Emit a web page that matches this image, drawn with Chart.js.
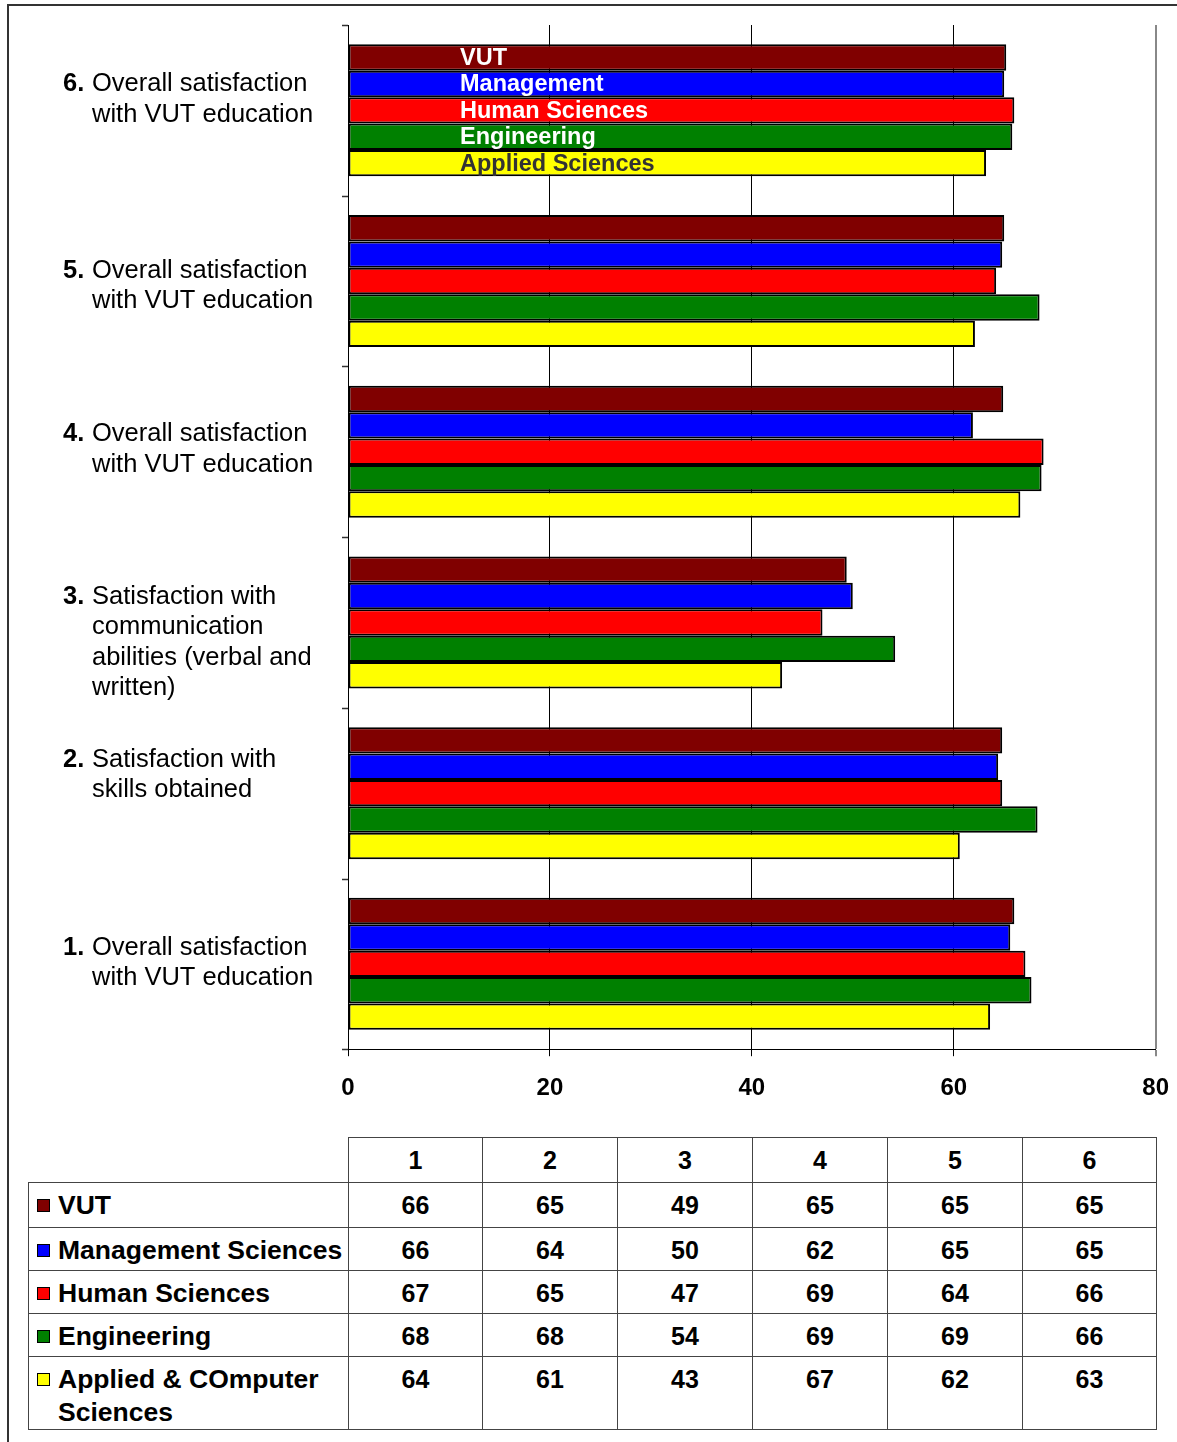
<!DOCTYPE html>
<html>
<head>
<meta charset="utf-8">
<script src="https://cdn.jsdelivr.net/npm/chart.js@4.4.0/dist/chart.umd.min.js"></script>
<style>
  html, body { margin: 0; padding: 0; background: #fff; overflow: hidden; }
  body { width: 1177px; height: 1442px; position: relative; font-family: "Liberation Sans", Arial, sans-serif; }
  #frame { position: absolute; left: 7px; top: 4px; width: 1300px; height: 1600px; border: 2px solid #333; }
  #wrap { position: absolute; left: 0; top: 0; width: 1177px; height: 1133px; overflow: hidden; }
  #data { position: absolute; left: 28px; top: 1137px; border-collapse: collapse; table-layout: fixed; }
  #data td { border: 1px solid #444; padding: 6px 0 0 0; vertical-align: top; text-align: center;
             font-weight: bold; font-size: 25px; line-height: 33px; color: #000; box-sizing: border-box; }
  #data td.name { text-align: left; padding-left: 8px; font-size: 26.5px; }
  #data td.blank { border: none; }
  .row { display: flex; align-items: flex-start; }
  .key { width: 11px; height: 11px; border: 1px solid #000; margin: 10px 8px 0 0; flex: none; }
</style>
</head>
<body>
<div id="frame"></div>
<div id="wrap"><canvas id="chart" width="1187" height="1133"></canvas></div>
<table id="data"></table>
<script>
// Questions, bottom (1) to top (6)
const questions = ["1", "2", "3", "4", "5", "6"];
const questionText = [
    ["Overall satisfaction", "with VUT education"],
    ["Satisfaction with", "skills obtained"],
    ["Satisfaction with", "communication", "abilities (verbal and", "written)"],
    ["Overall satisfaction", "with VUT education"],
    ["Overall satisfaction", "with VUT education"],
    ["Overall satisfaction", "with VUT education"]
];

// Series values
const vut         = [66.0, 64.8, 49.4, 64.9, 65.0, 65.2];
const management  = [65.6, 64.4, 50.0, 61.9, 64.8, 65.0];
const human       = [67.1, 64.8, 47.0, 68.9, 64.2, 66.0];
const engineering = [67.7, 68.3, 54.2, 68.7, 68.5, 65.8];
const applied     = [63.6, 60.6, 43.0, 66.6, 62.1, 63.2];

const barNames   = ["VUT", "Management", "Human Sciences", "Engineering", "Applied Sciences"];
const tableNames = ["VUT", "Management Sciences", "Human Sciences", "Engineering", "Applied & COmputer Sciences"];
const colors     = ["#800000", "#0000ff", "#ff0000", "#008000", "#ffff00"];
const series     = [vut, management, human, engineering, applied];

const xTicks = [0, 20, 40, 60, 80];

// small vertical nudges of the question labels, as in the original
const labelNudge = [-1, -18, 20, -2.5, 5, -11];

// question labels on the left + y axis tick marks
const leftLabels = {
    id: "leftLabels",
    afterDraw(chart) {
        const { ctx, chartArea, scales } = chart;
        const y = scales.y;
        ctx.save();
        ctx.strokeStyle = "#333";
        ctx.lineWidth = 1.5;
        const step = (chartArea.bottom - chartArea.top) / questions.length;
        for (let i = 0; i <= questions.length; i++) {
            const py = Math.round(chartArea.top + i * step) + 0.5;
            ctx.beginPath();
            ctx.moveTo(chartArea.left - 6, py);
            ctx.lineTo(chartArea.left, py);
            ctx.stroke();
        }
        ctx.textBaseline = "middle";
        ctx.fillStyle = "#000";
        questions.forEach((q, i) => {
            const lines = questionText[i];
            const mid = y.getPixelForValue(i) + labelNudge[i];
            const start = mid - (lines.length - 1) * 30.5 / 2;
            ctx.font = "bold 25.5px 'Liberation Sans', Arial";
            ctx.fillText(q + ".", 63, start);
            ctx.font = "25.5px 'Liberation Sans', Arial";
            lines.forEach((t, j) => ctx.fillText(t, 92, start + j * 30.5));
        });
        ctx.restore();
    }
};

// series names written inside the top group of bars
const barNameLabels = {
    id: "barNameLabels",
    afterDatasetsDraw(chart) {
        const { ctx, chartArea } = chart;
        ctx.save();
        ctx.font = "bold 23.5px 'Liberation Sans', Arial";
        ctx.textBaseline = "middle";
        chart.data.datasets.forEach((ds, i) => {
            const bar = chart.getDatasetMeta(i).data[questions.length - 1];
            ctx.fillStyle = i === 4 ? "#333" : "#fff";
            ctx.fillText(barNames[i], chartArea.left + 112, bar.y + 1);
        });
        ctx.restore();
    }
};

const ctx = document.getElementById("chart").getContext("2d");
const chart = new Chart(ctx, {
    type: "bar",
    data: {
        labels: questions,
        datasets: series.map((vals, i) => ({
            label: tableNames[i],
            data: vals,
            backgroundColor: colors[i],
            borderColor: "#000",
            borderWidth: 2,
            borderSkipped: false,
            barPercentage: 1,
            categoryPercentage: 0.773
        }))
    },
    options: {
        indexAxis: "y",
        responsive: false,
        animation: false,
        layout: { padding: { top: 25, left: 348, right: 11, bottom: 12 } },
        plugins: { legend: { display: false }, tooltip: { enabled: false } },
        scales: {
            y: { display: false, reverse: true },
            x: {
                min: 0,
                max: 80,
                afterBuildTicks: (scale) => { scale.ticks = xTicks.map(v => ({ value: v })); },
                grid: {
                    color: (c) => c.tick && c.tick.value === 80 ? "#888" : "#000",
                    lineWidth: (c) => c.tick && c.tick.value === 80 ? 2 : 1,
                    tickLength: 7
                },
                border: { display: true, color: "#000", width: 1 },
                ticks: {
                    color: "#000",
                    padding: 18,
                    maxRotation: 0,
                    font: { family: "'Liberation Sans', Arial", size: 24, weight: "bold" }
                }
            }
        }
    },
    plugins: [leftLabels, barNameLabels]
});

// data table under the chart
const table = document.getElementById("data");
const colW = [320, 134, 135, 135, 135, 135, 134];
const rowH = [45, 45, 43, 43, 43, 72];
let html = "<colgroup>" + colW.map(w => `<col style="width:${w}px">`).join("") + "</colgroup>";
html += `<tr style="height:${rowH[0]}px"><td class="blank"></td>` + questions.map(q => `<td>${q}</td>`).join("") + "</tr>";
series.forEach((vals, i) => {
    html += `<tr style="height:${rowH[i + 1]}px"><td class="name"><div class="row"><span class="key" style="background:${colors[i]}"></span><span>${tableNames[i].replace("&", "&amp;")}</span></div></td>`;
    html += vals.map(v => `<td>${Math.round(v)}</td>`).join("") + "</tr>";
});
table.innerHTML = html;
</script>
</body>
</html>
